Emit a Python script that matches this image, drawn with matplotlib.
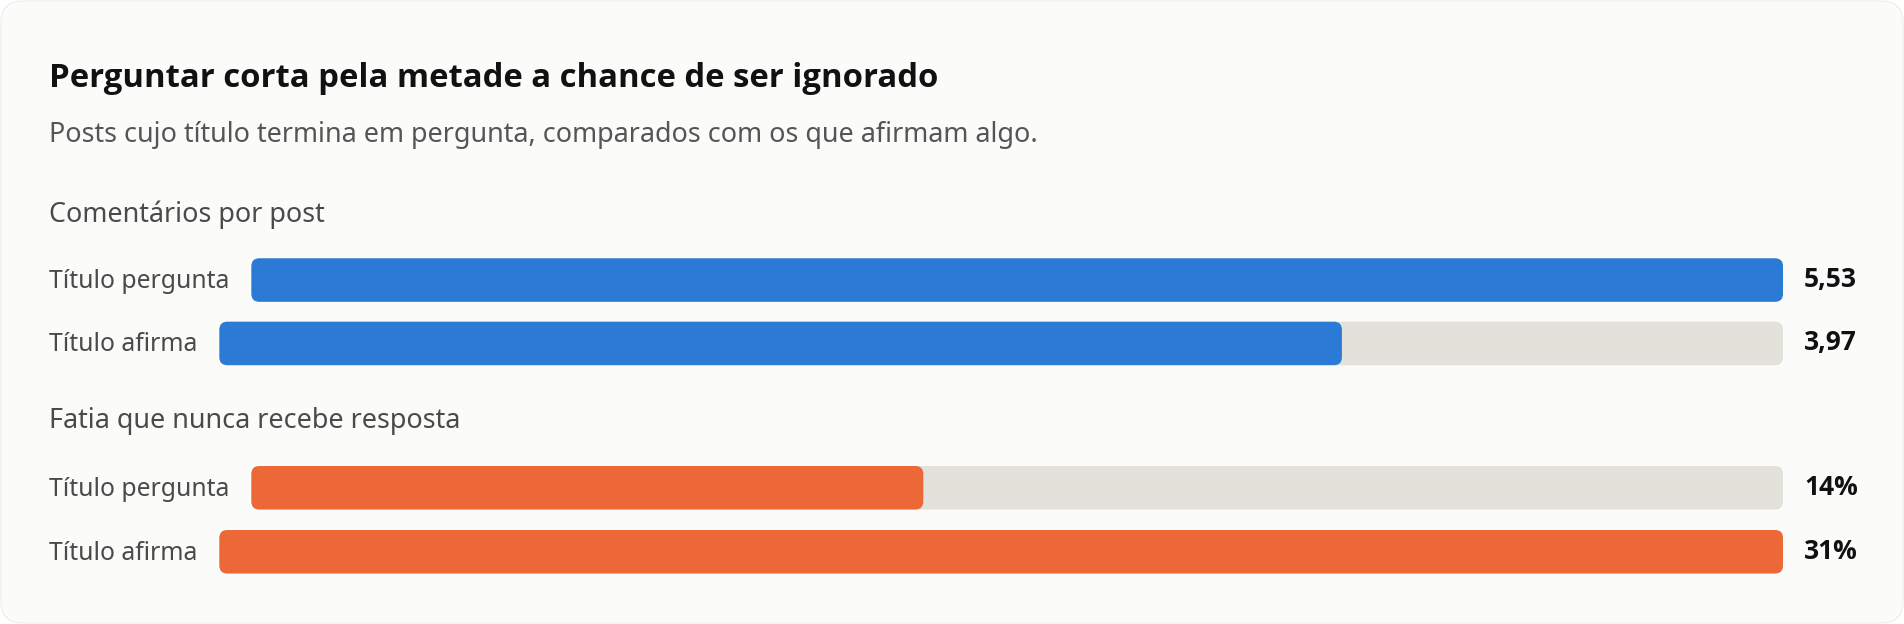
import matplotlib
matplotlib.use("Agg")
import matplotlib.pyplot as plt
from matplotlib.patches import FancyBboxPatch

# ---------------- data ----------------
title = "Perguntar corta pela metade a chance de ser ignorado"
subtitle = "Posts cujo título termina em pergunta, comparados com os que afirmam algo."
sections = ["Comentários por post", "Fatia que nunca recebe resposta"]
categories = ["Título pergunta", "Título afirma"]
comments_per_post = [5.53, 3.97]
never_answered_pct = [13.6, 31.0]

# ---------------- style ----------------
W, H, DPI = 1904, 624, 100
FONT = ["Noto Sans", "DejaVu Sans"]
BOLD_FONT = ["Open Sans", "DejaVu Sans"]
CARD = "#FBFBF9"
TRACK = "#E2E1DA"
BLUE = "#2B7AD6"
ORANGE = "#EC6836"
TITLE_C = "#111111"
SUB_C = "#555555"
LABEL_C = "#4A4A4A"
VALUE_C = "#111111"

plt.rcParams["font.family"] = FONT

fig = plt.figure(figsize=(W / DPI, H / DPI), dpi=DPI)
fig.patch.set_facecolor("white")
bg = fig.add_axes([0, 0, 1, 1])
bg.set_xlim(0, W)
bg.set_ylim(H, 0)
bg.axis("off")

bg.add_patch(FancyBboxPatch((1, 1), W - 2, H - 2,
                            boxstyle="round,pad=0,rounding_size=22",
                            fc=CARD, ec="#F0F0EC", lw=1))

bg.text(49, 87, title, fontsize=23.7, fontweight="bold", family=BOLD_FONT,
        color=TITLE_C, va="baseline", ha="left")
bg.text(49, 141.7, subtitle, fontsize=19.4, color=SUB_C, va="baseline", ha="left")

renderer = fig.canvas.get_renderer()

groups = [
    (sections[0], comments_per_post, BLUE, lambda v: f"{v:.2f}".replace(".", ","), 221.7, [258.3, 321.7]),
    (sections[1], never_answered_pct, ORANGE, lambda v: f"{round(v)}%", 428.3, [466.0, 530.0]),
]

BAR_H = 43.5
BAR_RIGHT = 1783.0
RADIUS = 8.0
GAP = 22.0

for sec_label, values, color, fmt, sec_y, tops in groups:
    bg.text(49, sec_y, sec_label, fontsize=19.4, color=LABEL_C, va="baseline", ha="left")
    vmax = max(values)
    for cat, val, top in zip(categories, values, tops):
        center = top + BAR_H / 2
        t = bg.text(49, center + 8, cat, fontsize=17.8, color=LABEL_C, va="baseline", ha="left")
        bb = t.get_window_extent(renderer=renderer)
        left = bb.x1 + GAP
        width_px = BAR_RIGHT - left
        ax = fig.add_axes([left / W, 1 - (top + BAR_H) / H, width_px / W, BAR_H / H])
        ax.set_xlim(0, vmax)
        ax.set_ylim(0, 1)
        ax.axis("off")
        rsize = RADIUS * vmax / width_px
        masp = (RADIUS / BAR_H) / rsize
        ax.add_patch(FancyBboxPatch((0, 0), vmax, 1,
                                    boxstyle=f"round,pad=0,rounding_size={rsize}",
                                    mutation_aspect=masp, fc=TRACK, ec="none", clip_on=False))
        ax.add_patch(FancyBboxPatch((0, 0), val, 1,
                                    boxstyle=f"round,pad=0,rounding_size={rsize}",
                                    mutation_aspect=masp, fc=color, ec="none", clip_on=False))
        bg.text(1804, center + 7, fmt(val), fontsize=19, fontweight="bold", family=BOLD_FONT,
                color=VALUE_C, va="baseline", ha="left")

fig.savefig("out.png", dpi=DPI, facecolor=fig.get_facecolor())
